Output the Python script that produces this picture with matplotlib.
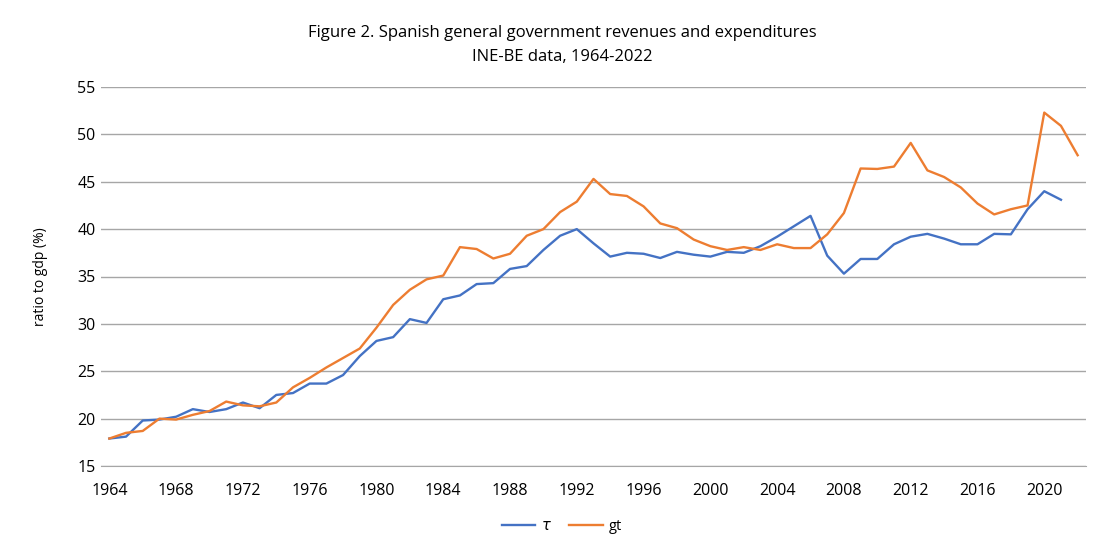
import matplotlib
matplotlib.use("Agg")
import matplotlib.pyplot as plt

years = list(range(1964, 2023))

# revenues (tau), ratio to gdp %, 1964-2021
tau = [17.9, 18.1, 19.8, 19.9, 20.2, 21.0, 20.7, 21.0, 21.7, 21.1,
       22.5, 22.7, 23.7, 23.7, 24.6, 26.6, 28.2, 28.6, 30.5, 30.1,
       32.6, 33.0, 34.2, 34.3, 35.8, 36.1, 37.8, 39.3, 40.0, 38.5,
       37.1, 37.5, 37.4, 36.95, 37.6, 37.3, 37.1, 37.6, 37.5, 38.2,
       39.2, 40.3, 41.4, 37.2, 35.3, 36.85, 36.85, 38.4, 39.2, 39.5,
       39.0, 38.4, 38.4, 39.5, 39.45, 42.1, 44.0, 43.1]

# expenditures (gt), ratio to gdp %, 1964-2022
gt = [17.9, 18.5, 18.7, 20.0, 19.9, 20.4, 20.8, 21.8, 21.4, 21.3,
      21.7, 23.3, 24.3, 25.4, 26.4, 27.4, 29.6, 32.0, 33.6, 34.7,
      35.1, 38.1, 37.9, 36.9, 37.4, 39.3, 40.0, 41.8, 42.9, 45.3,
      43.7, 43.5, 42.4, 40.6, 40.1, 38.9, 38.2, 37.8, 38.1, 37.8,
      38.4, 38.0, 38.0, 39.45, 41.7, 46.4, 46.35, 46.6, 49.1, 46.2,
      45.5, 44.4, 42.7, 41.55, 42.1, 42.5, 52.3, 50.9, 47.8]

plt.rcParams['font.family'] = ['Open Sans', 'DejaVu Sans']

fig = plt.figure(figsize=(11.06, 5.44), dpi=100)
ax = fig.add_axes([101 / 1106, 1 - 466 / 544, 985 / 1106, 379 / 544])

ax.plot(years[:len(tau)], tau, color="#4472C4", lw=1.7, label=r"$\tau$")
ax.plot(years, gt, color="#ED7D31", lw=1.7, label="gt")

ax.set_xlim(1963.5, 2022.5)
ax.set_ylim(15, 55)
ax.set_xticks(range(1964, 2021, 4))
ax.set_yticks(range(15, 56, 5))
ax.tick_params(axis="both", length=0, labelsize=11.5, colors="#000000")
ax.tick_params(axis="x", pad=12)
ax.tick_params(axis="y", pad=4)
ax.grid(axis="y", color="#a6a6a6", lw=1)
ax.set_axisbelow(True)
for s in ["top", "right", "left"]:
    ax.spines[s].set_visible(False)
ax.spines["bottom"].set_color("#a6a6a6")

ax.set_ylabel("ratio to gdp (%)", fontsize=10, labelpad=21)

fig.text(0.508, 1 - 33 / 544, "Figure 2. Spanish general government revenues and expenditures",
         ha="center", va="center", fontsize=12)
fig.text(0.508, 1 - 57 / 544, "INE-BE data, 1964-2022",
         ha="center", va="center", fontsize=12)

fig.legend(loc="center", bbox_to_anchor=(0.508, 1 - 527 / 544), ncol=2, frameon=False,
           fontsize=10.5, handlelength=2.3, columnspacing=1.2, handletextpad=0.4)

fig.savefig("out.png", dpi=100)
